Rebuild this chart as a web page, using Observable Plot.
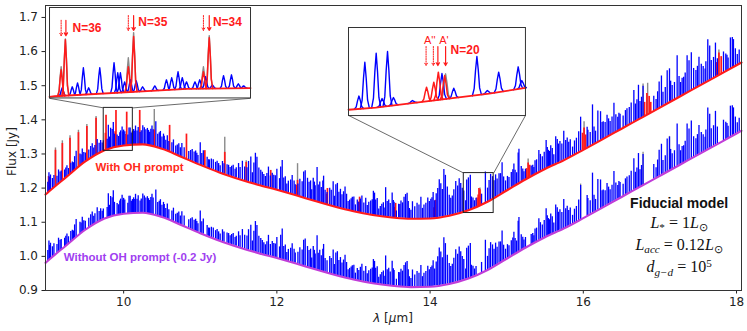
<!DOCTYPE html>
<html>
<head>
<meta charset="utf-8">
<script src="https://cdn.jsdelivr.net/npm/d3@7"></script>
<script src="https://cdn.jsdelivr.net/npm/@observablehq/plot@0.6"></script>
<style>
html,body{margin:0;padding:0;background:#fff;}
#wrap{position:relative;width:747px;height:331px;overflow:hidden;}
#wrap > svg{display:block;}
.inset{position:absolute;}
.inset svg{overflow:visible;display:block;}
</style>
</head>
<body>
<div id="wrap"></div>
<script>
// ---------- data ----------
// continuum of the model "with OH prompt" (Jy) at wavelengths (µm)
const contWl   = [8.98, 9.0, 9.25, 9.5, 9.75, 10.0, 10.25, 10.5, 10.75, 11.0, 11.25, 11.5, 11.75, 12.0, 12.25, 12.5, 12.75, 13.0, 13.25, 13.5, 13.75, 14.0, 14.25, 14.5, 14.75, 15.0, 15.25, 15.5, 15.75, 16.0, 16.25, 16.5, 16.75, 17.0, 17.25, 17.5, 17.75, 18.0, 18.065];
const contFlux = [1.181, 1.185, 1.232, 1.278, 1.311, 1.325, 1.328, 1.315, 1.292, 1.268, 1.246, 1.227, 1.210, 1.195, 1.179, 1.162, 1.146, 1.132, 1.121, 1.114, 1.110, 1.111, 1.119, 1.135, 1.160, 1.193, 1.226, 1.256, 1.282, 1.312, 1.343, 1.374, 1.405, 1.436, 1.467, 1.498, 1.529, 1.560, 1.568];
const offsetJy = 0.2; // lower spectrum shifted by -0.2 Jy

// blue (non-OH) emission lines: [wavelength µm, excess over continuum Jy]
const blueLines = [[9.01,.03],[9.025,.055],[9.045,.045],[9.07,.03],[9.09,.035],[9.13,.025],[9.15,.04],[9.17,.03],[9.23,.025],[9.26,.032],[9.28,.02],[9.33,.03],[9.36,.04],[9.38,.052],[9.43,.035],[9.46,.044],[9.48,.03],[9.545,.028],[9.57,.035],[9.59,.04],[9.61,.025],[9.655,.044],[9.68,.03],[9.70,.035],[9.72,.025],
[9.785,.03],[9.80,.07],[9.83,.06],[9.85,.055],[9.865,.075],[9.88,.04],[9.935,.03],[9.96,.045],[9.98,.055],[9.99,.04],[10.015,.04],[10.055,.03],[10.07,.05],[10.085,.05],[10.10,.035],[10.13,.045],[10.155,.055],[10.175,.04],[10.19,.05],[10.23,.04],[10.25,.055],[10.27,.05],[10.29,.045],[10.31,.05],[10.34,.04],[10.37,.06],[10.42,.075],[10.445,.04],[10.48,.05],[10.50,.035],[10.52,.045],[10.55,.03],[10.57,.045],[10.63,.03],[10.65,.04],[10.68,.025],[10.72,.035],[10.74,.025],[10.76,.04],[10.79,.03],[10.85,.025],[10.895,.035],[10.92,.03],[10.94,.035],[10.97,.025],[11.00,.065],[11.02,.035],[11.04,.045],[11.09,.03],[11.12,.025],[11.17,.03],[11.20,.025],[11.22,.03],[11.26,.02],[11.29,.035],[11.35,.03],[11.39,.025],[11.43,.035],[11.47,.03],[11.50,.045],[11.55,.055],[11.58,.04],[11.63,.06],[11.66,.075],[11.70,.06],[11.72,.09],[11.765,.05],[11.79,.045],[11.81,.04],[11.85,.03],[11.89,.06],[11.94,.045],[11.96,.04],[12.00,.06],[12.035,.035],[12.07,.09],[12.11,.045],[12.15,.035],[12.18,.04],[12.20,.055],[12.24,.03],[12.30,.05],[12.33,.045],[12.37,.08],[12.40,.06],[12.44,.055],[12.475,.065],[12.50,.045],[12.525,.10],[12.56,.06],[12.60,.065],[12.63,.04],[12.69,.05],[12.735,.072],[12.77,.065],[12.79,.07],[12.83,.055],[12.87,.05],[12.91,.045],[12.95,.03],[12.985,.04],[13.005,.042],[13.05,.035],[13.09,.04],[13.135,.03],[13.16,.045],[13.20,.035],[13.245,.045],[13.275,.065],[13.31,.05],[13.35,.028],[13.39,.04],[13.42,.085],[13.46,.05],[13.505,.072],[13.53,.045],[13.59,.04],[13.62,.05],[13.66,.062],[13.70,.074],[13.73,.03],[13.77,.05],[13.83,.045],[13.88,.063],[13.92,.04],[13.97,.06],[14.01,.056],[14.04,.075],[14.10,.085],[14.14,.097],[14.18,.138],[14.225,.085],[14.27,.05],[14.31,.072],[14.335,.095],[14.36,.08],[14.40,.085],[14.44,.06],[14.465,.03],[14.478,.09],[14.50,.095],[14.525,.10],[14.54,.035],[14.58,.02],[14.672,.03],[14.722,.09],[14.77,.06],[14.79,.075],[14.815,.065],[14.855,.065],[14.90,.062],[14.94,.089],[14.985,.03],[15.03,.034],[15.06,.045],[15.094,.065],[15.13,.035],[15.16,.10],[15.19,.045],[15.225,.025],[15.32,.03],[15.355,.022],[15.39,.04],[15.42,.064],[15.465,.04],[15.515,.082],[15.545,.05],[15.575,.06],[15.615,.03],[15.66,.07],[15.695,.06],[15.745,.085],[15.79,.06],[15.83,.05],[15.86,.025],[15.91,.045],[15.965,.10],[16.06,.05],[16.09,.04],[16.12,.117],[16.16,.035],[16.225,.084],[16.26,.05],[16.31,.063],[16.35,.04],[16.40,.087],[16.45,.04],[16.48,.045],[16.52,.035],[16.55,.047],[16.60,.05],[16.66,.092],[16.70,.06],[16.74,.05],[16.78,.09],[16.92,.043],[16.95,.03],[16.99,.076],[17.04,.04],[17.095,.096],[17.125,.098],[17.16,.045],[17.225,.124],[17.27,.04],[17.31,.05],[17.355,.108],[17.38,.09],[17.44,.06],[17.51,.084],[17.54,.06],[17.59,.04],[17.625,.121],[17.67,.055],[17.725,.099],[17.83,.06],[17.86,.05],[17.89,.035],[17.945,.088],[17.96,.08],[18.01,.03]];

// weaker blue lines filling the dense forest
const blueLinesWeak = [[9.035,.04],[9.185,.03],[9.245,.028],[9.31,.03],[9.345,.025],[9.445,.03],[9.50,.025],[9.625,.03],[9.735,.03],
[9.815,.035],[9.915,.035],[9.95,.04],[10.0,.045],[10.115,.04],[10.145,.04],[10.215,.035],[10.325,.045],[10.355,.05],[10.385,.05],[10.465,.045],[10.53,.04],
[10.59,.03],[10.70,.03],[10.875,.03],[10.955,.03],[11.11,.025],[11.145,.03],[11.24,.025],[11.31,.03],[11.37,.03],[11.41,.03],[11.455,.025],[11.52,.035],
[11.61,.04],[11.68,.03],[11.74,.08],[11.83,.035],[11.87,.04],[11.915,.035],[11.98,.04],[12.05,.07],[12.09,.04],[12.13,.025],[12.225,.04],[12.275,.035],[12.35,.075],[12.42,.05],[12.455,.03],[12.49,.055],
[12.54,.05],[12.58,.045],[12.61,.08],[12.655,.035],[12.71,.045],[12.75,.03],[12.81,.045],[12.85,.04],[12.89,.065],[12.93,.025],[12.97,.035],[13.025,.02],[13.07,.03],[13.11,.05],[13.18,.025],[13.225,.04],[13.26,.07],[13.29,.045],[13.33,.02],[13.37,.035],[13.41,.025],[13.44,.045],[13.48,.04],[13.52,.05],
[13.56,.02],[13.605,.04],[13.64,.045],[13.68,.07],[13.715,.05],[13.75,.025],[13.80,.035],[13.855,.04],[13.90,.03],[13.945,.045],[13.99,.05],[14.025,.06],[14.06,.05],[14.08,.07],[14.12,.11],[14.16,.08],[14.20,.12],[14.25,.06],[14.29,.055],[14.38,.10],[14.42,.07],
[14.56,.03],[14.60,.025],[14.75,.04],[14.835,.05],[14.875,.05],[14.92,.06],[14.96,.045],[15.01,.04],[15.08,.05],[15.11,.045],[15.15,.09],[15.21,.035],[15.245,.03],[15.34,.03],[15.37,.04],[15.44,.05],[15.49,.05],
[15.53,.06],[15.56,.045],[15.595,.05],[15.64,.08],[15.675,.055],[15.72,.05],[15.77,.055],[15.81,.045],[15.885,.04],[15.94,.06],[16.05,.06],[16.14,.05],[16.19,.09],[16.245,.05],[16.285,.045],[16.33,.05],[16.375,.05],[16.425,.05],[16.465,.05],
[16.57,.05],[16.625,.06],[16.68,.05],[16.72,.10],[16.76,.06],[16.97,.05],[17.02,.09],[17.07,.05],[17.14,.06],[17.19,.05],[17.25,.06],[17.29,.05],[17.33,.06],[17.41,.11],[17.47,.05],[17.49,.06],[17.565,.05],[17.60,.06],[17.65,.10],[17.70,.06],[17.75,.05],[17.875,.045],[17.92,.09],[17.985,.05],[18.035,.04]];

// OH prompt emission lines (red): [wavelength µm, excess Jy]
const ohLines = [[9.02,.045],[9.11,.105],[9.20,.108],[9.30,.105],[9.41,.101],[9.52,.100],[9.64,.108],[9.762,.049],[9.77,.101],[9.889,.046],[9.90,.108],[10.031,.032],[10.04,.097],[10.21,.10],[10.40,.05],[10.60,.078],[10.82,.073],[11.06,.047],[11.32,.064],[11.60,.055],[11.92,.052],[12.26,.03],[12.27,.045],[12.65,.03],[12.66,.047],[13.07,.03],[13.08,.045],[13.54,.03],[13.55,.042],[14.05,.03],[14.07,.051],[14.612,.025],[14.628,.032],[14.638,.05],[14.652,.045],[15.26,.03],[15.28,.044],[15.30,.035],[15.99,.05],[16.01,.063],[16.03,.04],[16.80,.04],[16.83,.062],[16.86,.05],[16.88,.03],[17.74,.04],[17.77,.064],[17.80,.05]];

// gray (total model) tips: [wavelength µm, excess Jy]
const grayUpper = [[9.11,.112],[9.20,.116],[9.30,.112],[9.41,.108],[9.52,.106],[9.64,.113],[10.40,.11],[11.32,.108],[11.60,.06],[12.27,.094],[14.652,.05],[15.28,.056],[16.01,.081],[16.78,.096],[16.84,.091],[17.77,.073]];
const grayLower = [[16.78,.096],[17.125,.10],[15.965,.104]];

const xTicks = [10, 12, 14, 16, 18];
const yTicks = [0.9, 1.0, 1.1, 1.2, 1.3, 1.4, 1.5, 1.6, 1.7];

// zoomed regions (source rectangles, main-axis units)
const rect1 = {x1: 9.74, x2: 10.12, y1: 1.309, y2: 1.435};
const rect2 = {x1: 14.44, x2: 14.83, y1: 1.127, y2: 1.244};
// where the insets sit (main-axis units)
const box1 = {x1: 9.032, x2: 11.656, y1: 1.463, y2: 1.728};
const box2 = {x1: 12.936, x2: 15.246, y1: 1.413, y2: 1.671};
// inset axis ranges
const view1 = {x: [9.74, 10.12], y: [1.3078, 1.478]};
const view2 = {x: [14.44, 14.83], y: [1.1207, 1.2792]};

// inset 1 peaks: [wavelength, peak flux]
const inset1Blue = [[9.764,1.3268],[9.783,1.3287],[9.793,1.3362],[9.804,1.3646],[9.814,1.3268],[9.835,1.3646],[9.862,1.374],[9.869,1.3551],[9.874,1.3551],[9.882,1.338],[9.893,1.3419],[9.904,1.34],[9.916,1.3287],[9.939,1.3305],[9.961,1.3419],[9.971,1.3457],[9.983,1.357],[9.991,1.3457],[9.999,1.338],[10.015,1.338],[10.024,1.3419],[10.035,1.3476],[10.048,1.3324],[10.069,1.3495],[10.084,1.3513],[10.097,1.3343],[10.107,1.3305]];
const inset1Red  = [[9.762,1.3608],[9.770,1.4175],[9.889,1.3665],[9.899,1.4232],[10.031,1.357],[10.042,1.4213]];
const inset1Gray = [[9.762,1.3665],[9.770,1.419],[9.889,1.3835],[9.899,1.4307],[10.031,1.3665],[10.042,1.4251]];
const inset1ArrowsDotted = [{w: 9.762, top: 1.454, bottom: 1.425}, {w: 9.889, top: 1.4629, bottom: 1.435}, {w: 10.031, top: 1.4629, bottom: 1.435}];
const inset1ArrowsSolid  = [{w: 9.771, top: 1.454, bottom: 1.425}, {w: 9.899, top: 1.4629, bottom: 1.435}, {w: 10.042, top: 1.4629, bottom: 1.435}];
const inset1Labels = [{w: 9.7835, f: 1.4396, t: "N=36"}, {w: 9.908, f: 1.4502, t: "N=35"}, {w: 10.049, f: 1.4502, t: "N=34"}];

// inset 2 peaks
const inset2Blue = [[14.463,1.1558],[14.476,1.2167],[14.501,1.2329],[14.514,1.1513],[14.526,1.236],[14.539,1.1531],[14.581,1.1477],[14.646,1.1963],[14.672,1.1698],[14.723,1.2269],[14.746,1.1657],[14.771,1.1987],[14.814,1.2084],[14.822,1.1837]];
const inset2Red  = [[14.612,1.1716],[14.628,1.1806],[14.638,1.1987],[14.652,1.1927]];
const inset2Gray = [[14.654,1.1958]];
const inset2ArrowsDotted = [{w: 14.611, top: 1.245, bottom: 1.2107}, {w: 14.627, top: 1.245, bottom: 1.2107}];
const inset2ArrowsSolid  = [{w: 14.637, top: 1.245, bottom: 1.2107}, {w: 14.654, top: 1.245, bottom: 1.2107}];
const inset2Labels = [{w: 14.665, f: 1.2378, t: "N=20"}];
const inset2Components = [{w: 14.619, f: 1.2558, t: "A''"}, {w: 14.6505, f: 1.2558, t: "A'"}];

// text annotations
const seriesLabels = [
  {w: 10.207, f: 1.261, t: "With OH prompt", c: "#ff2a1a"},
  {w: 10.214, f: 0.997, t: "Without OH prompt (-0.2 Jy)", c: "#a040f0"}
];
const fiducial = {w: 17.257, f: [1.1405, 1.0818, 1.0173, 0.9514]};

// ---------- styles ----------
const RED = "#ff1a1a", BLUE = "#0000ff", GRAY = "#8a8a8a", MAGENTA = "#c03cd8";
const profile = [[-1,0],[-0.6,0.18],[-0.3,0.65],[0,1],[0.3,0.65],[0.6,0.18],[1,0]];

// ---------- build ----------
const contAt = d3.scaleLinear().domain(contWl).range(contFlux);
const contUpper = contWl.map((w, i) => ({w, f: contFlux[i]}));
const contLower = contWl.map((w, i) => ({w, f: contFlux[i] - offsetJy}));
const allBlue = blueLines.concat(blueLinesWeak);
const spikes = (lines, shift) => lines.map(([w, e]) => ({w, y1: contAt(w) - shift, y2: contAt(w) - shift + e}));

const links = [
  {x1: box1.x1, y1: box1.y1, x2: rect1.x1, y2: rect1.y2},
  {x1: box1.x2, y1: box1.y1, x2: rect1.x2, y2: rect1.y2},
  {x1: box2.x1, y1: box2.y1, x2: rect2.x1, y2: rect2.y2},
  {x1: box2.x2, y1: box2.y1, x2: rect2.x2, y2: rect2.y2}
];

const chart = Plot.plot({
  width: 747, height: 331,
  marginLeft: 45, marginRight: 6, marginTop: 5, marginBottom: 41,
  style: {fontFamily: "DejaVu Sans", fontSize: "12px", background: "white", color: "#222"},
  x: {domain: [8.98, 18.065], ticks: xTicks, tickSize: 3.5, tickPadding: 3, label: null},
  y: {domain: [0.9, 1.735], ticks: yTicks, tickSize: 3.5, tickPadding: 4, tickFormat: d3.format(".1f"), label: null},
  marks: [
    // lower spectrum (without OH prompt, -0.2 Jy)
    Plot.ruleX(spikes(grayLower, offsetJy), {x: "w", y1: "y1", y2: "y2", stroke: GRAY, strokeWidth: 1.3}),
    Plot.ruleX(spikes(allBlue, offsetJy), {x: "w", y1: "y1", y2: "y2", stroke: BLUE, strokeWidth: 1.3}),
    Plot.line(contLower, {x: "w", y: "f", stroke: MAGENTA, strokeWidth: 2.1, curve: "monotone-x"}),
    // upper spectrum (with OH prompt)
    Plot.ruleX(spikes(grayUpper, 0), {x: "w", y1: "y1", y2: "y2", stroke: GRAY, strokeWidth: 1.4}),
    Plot.ruleX(spikes(ohLines, 0), {x: "w", y1: "y1", y2: "y2", stroke: RED, strokeWidth: 1.7}),
    Plot.ruleX(spikes(allBlue, 0), {x: "w", y1: "y1", y2: "y2", stroke: BLUE, strokeWidth: 1.3}),
    Plot.line(contUpper, {x: "w", y: "f", stroke: RED, strokeWidth: 2.1, curve: "monotone-x"}),
    // zoom rectangles and connectors
    Plot.rect([rect1, rect2], {x1: "x1", x2: "x2", y1: "y1", y2: "y2", fill: "none", stroke: "#222", strokeWidth: 1}),
    Plot.link(links, {x1: "x1", y1: "y1", x2: "x2", y2: "y2", stroke: "#444", strokeWidth: 0.8}),
    Plot.text(seriesLabels, {x: "w", y: "f", text: "t", fill: "c", fontWeight: "bold", fontSize: 11.5, fontFamily: "Liberation Sans"}),
    Plot.frame({stroke: "#333", strokeWidth: 1})
  ]
});
document.getElementById("wrap").appendChild(chart);

const xs = chart.scale("x"), ys = chart.scale("y");
const svg = d3.select(chart);

// axis titles
const yMid = (ys.range[0] + ys.range[1]) / 2;
svg.append("text")
  .attr("transform", `translate(${xs.range[0] - 33},${yMid + 4}) rotate(-90)`)
  .attr("text-anchor", "middle").attr("dominant-baseline", "middle")
  .attr("font-family", "DejaVu Sans").attr("font-size", 12).attr("fill", "#222")
  .text("Flux [Jy]");
const xl = svg.append("text")
  .attr("x", (xs.range[0] + xs.range[1]) / 2).attr("y", ys.range[0] + 32)
  .attr("text-anchor", "middle")
  .attr("font-family", "DejaVu Sans").attr("font-size", 12).attr("fill", "#222");
xl.append("tspan").attr("font-style", "italic").text("λ");
xl.append("tspan").text(" [");
xl.append("tspan").attr("font-style", "italic").text("μ");
xl.append("tspan").text("m]");

// fiducial model annotation
const fx = xs.apply(fiducial.w);
svg.append("text").attr("x", fx).attr("y", ys.apply(fiducial.f[0]))
  .attr("text-anchor", "middle").attr("font-family", "Liberation Sans").attr("font-weight", "bold")
  .attr("font-size", 14).attr("fill", "#111").text("Fiducial model");
function rich(y, parts) {
  const size = 16;
  const t = svg.append("text").attr("x", fx).attr("y", y).attr("text-anchor", "middle")
    .attr("font-family", "Liberation Serif").attr("font-size", size).attr("fill", "#111");
  let off = 0;
  for (const p of parts) {
    const target = p.sub ? size * 0.2 : p.sup ? -size * 0.35 : 0;
    const ts = t.append("tspan").text(p.s).attr("dy", target - off);
    off = target;
    if (p.sub || p.sup) ts.attr("font-size", size * 0.7);
    if (p.it) ts.attr("font-style", "italic");
  }
}
rich(ys.apply(fiducial.f[1]), [{s: "L", it: 1}, {s: "*", sub: 1}, {s: " = 1"}, {s: "L", it: 1}, {s: "⊙", sub: 1}]);
rich(ys.apply(fiducial.f[2]), [{s: "L", it: 1}, {s: "acc", sub: 1, it: 1}, {s: " = 0.12"}, {s: "L", it: 1}, {s: "⊙", sub: 1}]);
rich(ys.apply(fiducial.f[3]), [{s: "d", it: 1}, {s: "g−d", sub: 1, it: 1}, {s: " = 10"}, {s: "5", sup: 1}]);

// insets
function shapes(peaks, hw) {
  return peaks.flatMap(([c, p], id) => profile.map(([o, fr]) => ({id, w: c + o * hw, f: contAt(c + o * hw) + fr * (p - contAt(c))})));
}
function makeInset(box, view, blue, red, gray, hw, dotted, solid, labels, components) {
  const left = xs.apply(box.x1), right = xs.apply(box.x2);
  const top = ys.apply(box.y2), bottom = ys.apply(box.y1);
  const base = [view.x[0], ...contWl.filter(v => v > view.x[0] && v < view.x[1]), view.x[1]].map(v => ({w: v, f: contAt(v)}));
  const p = Plot.plot({
    width: right - left, height: bottom - top, margin: 0,
    x: {domain: view.x, axis: null}, y: {domain: view.y, axis: null},
    style: {background: "white", overflow: "visible"},
    marks: [
      Plot.line(shapes(gray, hw), {x: "w", y: "f", z: "id", stroke: GRAY, strokeWidth: 1.4}),
      Plot.line(shapes(blue, hw), {x: "w", y: "f", z: "id", stroke: BLUE, strokeWidth: 1.4}),
      Plot.line(shapes(red, hw), {x: "w", y: "f", z: "id", stroke: RED, strokeWidth: 1.5}),
      Plot.line(base, {x: "w", y: "f", stroke: RED, strokeWidth: 1.8}),
      Plot.arrow(dotted, {x1: "w", x2: "w", y1: "top", y2: "bottom", stroke: RED, strokeWidth: 1, headLength: 4, strokeDasharray: "1.2,1.2"}),
      Plot.arrow(solid, {x1: "w", x2: "w", y1: "top", y2: "bottom", stroke: RED, strokeWidth: 1.2, headLength: 4}),
      Plot.text(labels, {x: "w", y: "f", text: "t", fill: RED, fontWeight: "bold", textAnchor: "start", fontSize: 12, fontFamily: "Liberation Sans"}),
      Plot.text(components, {x: "w", y: "f", text: "t", fill: RED, fontWeight: "normal", textAnchor: "middle", fontSize: 11, fontFamily: "Liberation Sans"}),
      Plot.frame({stroke: "#333", strokeWidth: 1})
    ]
  });
  const div = document.createElement("div");
  div.className = "inset";
  div.style.left = left + "px";
  div.style.top = top + "px";
  div.appendChild(p);
  document.getElementById("wrap").appendChild(div);
}
makeInset(box1, view1, inset1Blue, inset1Red, inset1Gray, 0.0065, inset1ArrowsDotted, inset1ArrowsSolid, inset1Labels, []);
makeInset(box2, view2, inset2Blue, inset2Red, inset2Gray, 0.010, inset2ArrowsDotted, inset2ArrowsSolid, inset2Labels, inset2Components);
</script>
</body>
</html>
